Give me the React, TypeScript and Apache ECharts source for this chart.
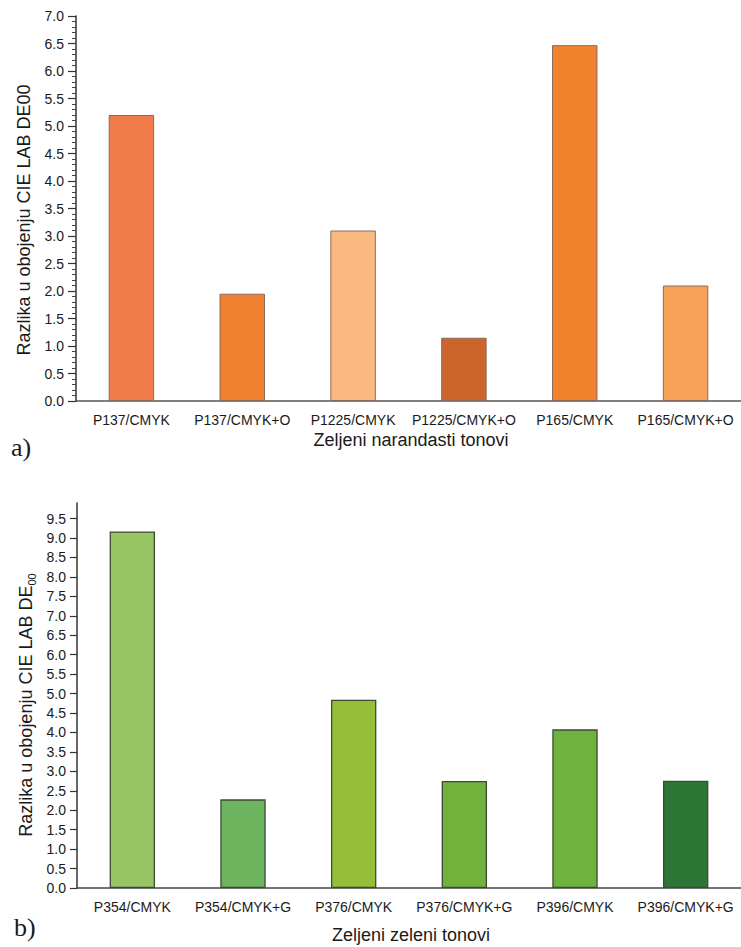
import React, { useEffect, useRef } from "react";
import * as echarts from "echarts";

const categoriesA = ["P137/CMYK", "P137/CMYK+O", "P1225/CMYK", "P1225/CMYK+O", "P165/CMYK", "P165/CMYK+O"];
const valuesA = [5.2, 1.95, 3.1, 1.15, 6.47, 2.1];
const colorsA = ["#EE7B48", "#F0822F", "#F9B981", "#CB652C", "#F0822E", "#F6A158"];

const categoriesB = ["P354/CMYK", "P354/CMYK+G", "P376/CMYK", "P376/CMYK+G", "P396/CMYK", "P396/CMYK+G"];
const valuesB = [9.17, 2.28, 4.84, 2.75, 4.08, 2.76];
const colorsB = ["#98C564", "#6CB45E", "#95BF38", "#70B23C", "#6DB33E", "#2C7535"];

const ticksB = [0, 0.5, 1, 1.5, 2, 2.5, 3, 3.5, 4, 4.5, 5, 5.5, 6, 6.5, 7, 7.5, 8, 8.5, 9, 9.5];

const FONT = "Liberation Sans, Arial, Helvetica, sans-serif";

export default function App() {
  const ref = useRef<HTMLDivElement>(null);
  useEffect(() => {
    if (!ref.current) return;
    const chart = echarts.init(ref.current, undefined, { renderer: "svg" });
    const labelStyle = { color: "#1a1a1a", fontSize: 14, fontFamily: FONT };
    const option = {
      animation: false,
      backgroundColor: "#ffffff",
      grid: [
        { left: 76, top: 16, width: 670, height: 385 },
        { left: 77, top: 503, width: 672, height: 385 },
      ],
      xAxis: [
        {
          type: "category",
          gridIndex: 0,
          data: categoriesA,
          axisLine: { lineStyle: { color: "#555", width: 1.5 } },
          axisTick: { alignWithLabel: true, length: 6, lineStyle: { color: "#333", width: 1.5 } },
          axisLabel: { ...labelStyle, margin: 12, interval: 0 },
        },
        {
          type: "category",
          gridIndex: 1,
          data: categoriesB,
          axisLine: { lineStyle: { color: "#444", width: 1.5 } },
          axisTick: { alignWithLabel: true, length: 6, lineStyle: { color: "#333", width: 1.5 } },
          axisLabel: { ...labelStyle, margin: 12, interval: 0 },
        },
      ],
      yAxis: [
        {
          type: "value",
          gridIndex: 0,
          min: 0,
          max: 7,
          interval: 0.5,
          axisLine: { show: true, lineStyle: { color: "#333", width: 1.5 } },
          axisTick: { show: true, length: 8, lineStyle: { color: "#333", width: 1.2 } },
          minorTick: { show: true, splitNumber: 5, length: 4, lineStyle: { color: "#444", width: 1 } },
          axisLabel: { ...labelStyle, margin: 12, formatter: (v: number) => v.toFixed(1) },
          splitLine: { show: false },
        },
        {
          type: "value",
          gridIndex: 1,
          min: 0,
          max: 9.9,
          axisLine: { show: true, lineStyle: { color: "#333", width: 1.5 } },
          axisTick: { show: true, length: 7, customValues: ticksB, lineStyle: { color: "#333", width: 1.2 } },
          axisLabel: { ...labelStyle, margin: 11, customValues: ticksB, formatter: (v: number) => v.toFixed(1) },
          splitLine: { show: false },
        },
      ],
      series: [
        {
          type: "bar",
          xAxisIndex: 0,
          yAxisIndex: 0,
          barWidth: "41%",
          data: valuesA.map((v, i) => ({
            value: v,
            itemStyle: { color: colorsA[i], borderColor: "#8a6b5a", borderWidth: 1 },
          })),
        },
        {
          type: "bar",
          xAxisIndex: 1,
          yAxisIndex: 1,
          barWidth: "41%",
          data: valuesB.map((v, i) => ({
            value: v,
            itemStyle: { color: colorsB[i], borderColor: "#3c4a34", borderWidth: 1.3 },
          })),
        },
      ],
      graphic: [
        {
          type: "text",
          x: 24,
          y: 220,
          rotation: Math.PI / 2,
          style: {
            text: "Razlika u obojenju CIE LAB DE00",
            font: `18px ${FONT}`,
            fill: "#1a1a1a",
            align: "center",
            verticalAlign: "middle",
          },
        },
        {
          type: "text",
          x: 411,
          y: 440,
          style: {
            text: "Zeljeni narandasti tonovi",
            font: `18px ${FONT}`,
            fill: "#1a1a1a",
            align: "center",
            verticalAlign: "middle",
          },
        },
        {
          type: "text",
          x: 11,
          y: 447,
          style: {
            text: "a)",
            font: `26px Liberation Serif, Times New Roman, serif`,
            fill: "#1a1a1a",
            align: "left",
            verticalAlign: "middle",
          },
        },
        {
          type: "text",
          x: 26,
          y: 705,
          rotation: Math.PI / 2,
          style: {
            text: "{m|Razlika u obojenju CIE LAB DE}{s|00}",
            fill: "#1a1a1a",
            align: "center",
            verticalAlign: "middle",
            rich: {
              m: { fontSize: 18, fontFamily: FONT, fill: "#1a1a1a", lineHeight: 22, verticalAlign: "middle" },
              s: { fontSize: 11, fontFamily: FONT, fill: "#1a1a1a", lineHeight: 11, verticalAlign: "bottom" },
            },
          },
        },
        {
          type: "text",
          x: 411,
          y: 935,
          style: {
            text: "Zeljeni zeleni tonovi",
            font: `18px ${FONT}`,
            fill: "#1a1a1a",
            align: "center",
            verticalAlign: "middle",
          },
        },
        {
          type: "text",
          x: 14,
          y: 927,
          style: {
            text: "b)",
            font: `26px Liberation Serif, Times New Roman, serif`,
            fill: "#1a1a1a",
            align: "left",
            verticalAlign: "middle",
          },
        },
      ],
    };
    chart.setOption(option as any);
    return () => chart.dispose();
  }, []);
  return (
    <div
      ref={ref}
      style={{ position: "fixed", left: 0, top: 0, width: 741, height: 947, overflow: "hidden" }}
    />
  );
}
